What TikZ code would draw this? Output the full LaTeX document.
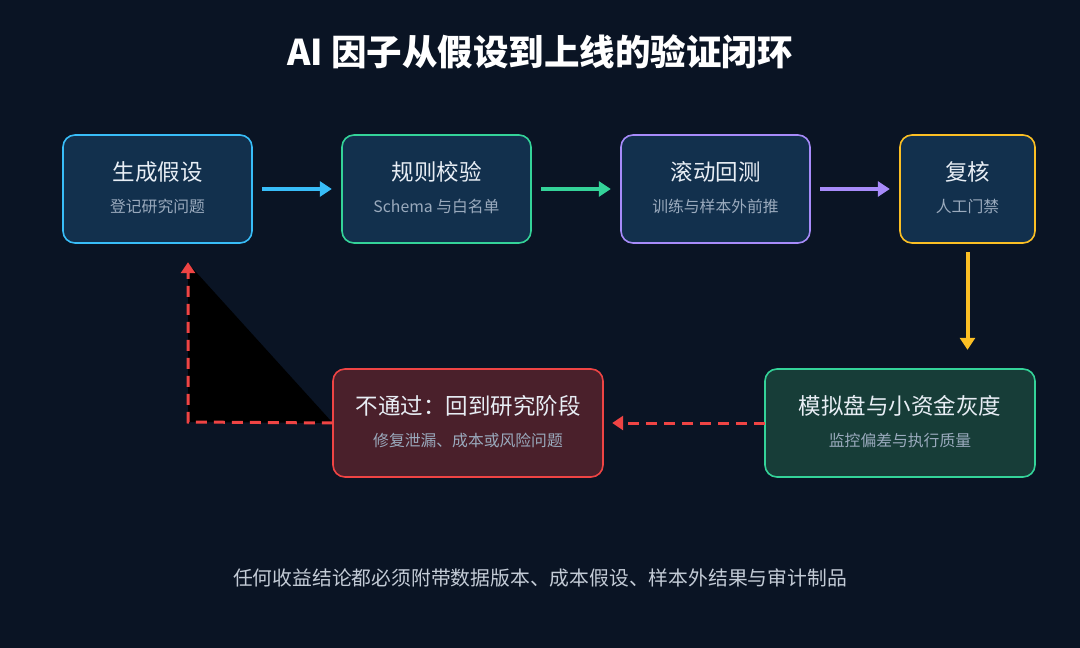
\documentclass[tikz,border=0pt]{standalone}
\usepackage{fontspec}
\setmainfont{Noto Sans CJK SC}
\usetikzlibrary{arrows.meta}
\definecolor{bg}{HTML}{0A1424}
\definecolor{boxfill}{HTML}{12304D}
\definecolor{cblue}{HTML}{38BDF8}
\definecolor{cgreen}{HTML}{34D399}
\definecolor{cpurple}{HTML}{A78BFA}
\definecolor{cyellow}{HTML}{FBBF24}
\definecolor{cred}{HTML}{EF4444}
\definecolor{greenfill}{HTML}{173D38}
\definecolor{redfill}{HTML}{4A202B}
\definecolor{subtxt}{HTML}{9AAABD}
\definecolor{foottxt}{HTML}{C3CBD6}
\definecolor{maintxt}{HTML}{E8EEF5}
\tikzset{
  card/.style={draw=#1, line width=1.6pt, rounded corners=12pt, fill=boxfill},
  ttl/.style={text=maintxt, font=\fontsize{22.5}{26}\selectfont, anchor=center},
  sub/.style={text=subtxt, font=\fontsize{15.8}{18}\selectfont, anchor=center},
  flow/.style={draw=#1, line width=4pt, -{Triangle[length=12pt,width=15pt]}},
  back/.style={draw=cred, line width=3pt, dash pattern=on 11pt off 7pt, -{Triangle[length=11pt,width=14pt]}}
}
\begin{document}
\begin{tikzpicture}[x=1pt,y=-1pt]
\fill[bg] (0,0) rectangle (1080,648);
\useasboundingbox (0,0) rectangle (1080,648);
\node[text=white, font=\fontsize{35.5}{40}\selectfont\bfseries] (title) at (540,52) {AI 因子从假设到上线的验证闭环};
% boxes
\draw[card=cblue] (63,135) rectangle (252,243);
\node[inner sep=0, minimum width=189pt, minimum height=108pt] (b1) at (157.5,189) {};
\node[ttl] at (157.5,172) {生成假设};
\node[sub] at (157.5,206) {登记研究问题};
\draw[card=cgreen] (342,135) rectangle (531,243);
\node[inner sep=0, minimum width=189pt, minimum height=108pt] (b2) at (436.5,189) {};
\node[ttl] at (436.5,172) {规则校验};
\node[sub] at (436.5,206) {Schema 与白名单};
\draw[card=cpurple] (621,135) rectangle (810,243);
\node[inner sep=0, minimum width=189pt, minimum height=108pt] (b3) at (715.5,189) {};
\node[ttl] at (715.5,172) {滚动回测};
\node[sub] at (715.5,206) {训练与样本外前推};
\draw[card=cyellow] (900,135) rectangle (1035,243);
\node[inner sep=0, minimum width=135pt, minimum height=108pt] (b4) at (967.5,189) {};
\node[ttl] at (967.5,172) {复核};
\node[sub] at (967.5,206) {人工门禁};
\draw[card=cgreen, fill=greenfill] (765,369) rectangle (1035,477);
\node[inner sep=0, minimum width=270pt, minimum height=108pt] (b5) at (900,423) {};
\node[ttl] at (900,406) {模拟盘与小资金灰度};
\node[sub] at (900,440) {监控偏差与执行质量};
\draw[card=cred, fill=redfill] (333,369) rectangle (603,477);
\node[inner sep=0, minimum width=270pt, minimum height=108pt] (b6) at (468,423) {};
\node[ttl] at (468,406) {不通过：回到研究阶段};
\node[sub] at (468,440) {修复泄漏、成本或风险问题};
% connectors
\draw[flow=cblue] ([xshift=10pt]b1.east) -- ([xshift=-10pt]b2.west);
\draw[flow=cgreen] ([xshift=10pt]b2.east) -- ([xshift=-10pt]b3.west);
\draw[flow=cpurple] ([xshift=10pt]b3.east) -- ([xshift=-10pt]b4.west);
\draw[flow=cyellow] ([yshift=-9pt]b4.south) -- ([yshift=19pt]b5.north -| b4.south);
\draw[back] (b5.west) -- ([xshift=9pt]b6.east);
\coordinate (corner) at (188,422);
\fill[black] (b6.west) -- (corner) -- ([yshift=-20pt]b1.south -| corner) -- cycle;
\draw[back] (b6.west) -- (corner) -- ([yshift=-19pt]b1.south -| corner);
% footer
\node[text=foottxt, font=\fontsize{19.8}{23}\selectfont] (foot) at (540,578) {任何收益结论都必须附带数据版本、成本假设、样本外结果与审计制品};
\end{tikzpicture}
\end{document}
